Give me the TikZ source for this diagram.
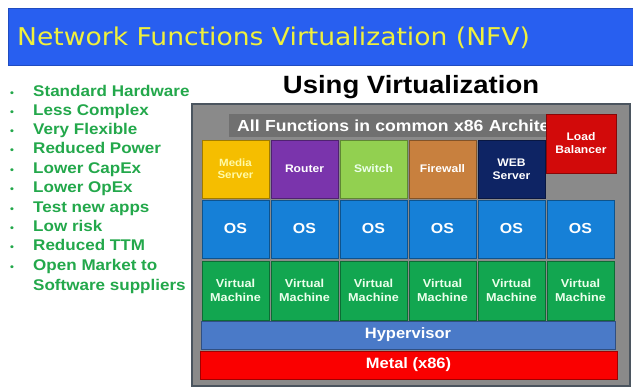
\documentclass[tikz,border=0pt]{standalone}
\usepackage{fontspec}
\setmainfont{Liberation Sans}[FakeStretch=1.1]
\newfontfamily\titlefont{DejaVu Sans}[FakeStretch=1.085]
\usepackage{tikz}

\definecolor{bannerblue}{RGB}{40,95,240}
\definecolor{titleyellow}{RGB}{240,240,60}
\definecolor{pointgreen}{RGB}{35,168,75}
\definecolor{panelgrey}{RGB}{138,138,138}
\definecolor{panelrim}{RGB}{75,85,95}
\definecolor{stripgrey}{RGB}{112,112,112}
\definecolor{mediacol}{RGB}{245,190,0}
\definecolor{routercol}{RGB}{122,52,172}
\definecolor{switchcol}{RGB}{146,208,80}
\definecolor{firecol}{RGB}{200,128,62}
\definecolor{webcol}{RGB}{14,36,100}
\definecolor{lbcol}{RGB}{210,10,10}
\definecolor{oscol}{RGB}{22,128,215}
\definecolor{vmcol}{RGB}{18,166,80}
\definecolor{hypercol}{RGB}{74,122,200}
\definecolor{metalcol}{RGB}{250,0,0}

\tikzset{
  point/.style={anchor=base west, inner sep=0pt, text=pointgreen,
    font=\bfseries\fontsize{15.5}{18}\selectfont},
  block/.style={draw=#1!65!black, fill=#1, line width=0.8pt, inner sep=0pt,
    minimum width=67pt, minimum height=58pt, align=center, text=white,
    font=\bfseries\fontsize{11}{13}\selectfont},
  osblock/.style={block=oscol, font=\bfseries\fontsize{14.5}{16}\selectfont},
  vmblock/.style={block=vmcol, minimum height=59pt, text=white!92!green,
    font=\bfseries\fontsize{11.5}{13.5}\selectfont},
  layer/.style={draw=#1!65!black, fill=#1, line width=0.8pt, inner sep=0pt,
    minimum height=28pt, text=white, font=\bfseries\fontsize{15}{17}\selectfont}
}

\newcommand{\bul}{\makebox[23pt][l]{\fontsize{10}{10}\selectfont\textbullet}}

\begin{document}
\begin{tikzpicture}[x=1pt, y=-1pt]
    \useasboundingbox[fill=white] (0,0) rectangle (633,387);

    % banner
    \node[fill=bannerblue, draw=bannerblue!80!black, minimum width=625pt,
      minimum height=57pt, inner sep=0pt] (banner) at (320.5,36.5) {};
    \node[anchor=base west, inner sep=0pt, text=titleyellow,
      font=\titlefont\fontsize{24.5}{28}\selectfont] (title) at (17,46)
      {Network Functions Virtualization (NFV)};

    % benefits
    \node[point] (b1) at (10,96.5) {\bul Standard Hardware};
    \node[point] (b2) at (10,115.5) {\bul Less Complex};
    \node[point] (b3) at (10,134.5) {\bul Very Flexible};
    \node[point] (b4) at (10,153.5) {\bul Reduced Power};
    \node[point] (b5) at (10,173.5) {\bul Lower CapEx};
    \node[point] (b6) at (10,192.5) {\bul Lower OpEx};
    \node[point] (b7) at (10,212.5) {\bul Test new apps};
    \node[point] (b8) at (10,231.5) {\bul Low risk};
    \node[point] (b9) at (10,250.5) {\bul Reduced TTM};
    \node[point] (b10) at (10,270.5) {\bul Open Market to};
    \node[point] (b11) at (33,290.5) {Software suppliers};

    \node[font=\bfseries\fontsize{25}{30}\selectfont] (using) at (411,87)
      {Using Virtualization};

    % stack
    \node[fill=panelgrey, draw=panelrim, line width=1.5pt, minimum width=438pt,
      minimum height=282pt, inner sep=0pt] (panel) at (411,245) {};
    \node[fill=stripgrey, anchor=west, text width=314pt, inner xsep=8pt,
      inner ysep=0pt, minimum height=23pt, text=white, align=left,
      font=\bfseries\fontsize{16}{17}\selectfont] (strip) at (229,125.5)
      {All Functions in common x86 Archite};

    \node[block=mediacol, text=yellow!35!white,
      font=\bfseries\fontsize{10.5}{12.5}\selectfont] (media) at (235.5,169) {Media\\Server};
    \node[block=routercol] (router) at (304.5,169) {Router};
    \node[block=switchcol, text=green!8!white] (switch) at (373.5,169) {Switch};
    \node[block=firecol] (firewall) at (442.5,169) {Firewall};
    \node[block=webcol] (web) at (511.5,169) {WEB\\Server};
    \node[block=lbcol, minimum width=70pt, minimum height=59pt] (lb)
      at (581,143.5) {Load\\Balancer};

    \node[osblock] (os1) at (235.5,229) {OS};
    \node[osblock] (os2) at (304.5,229) {OS};
    \node[osblock] (os3) at (373.5,229) {OS};
    \node[osblock] (os4) at (442.5,229) {OS};
    \node[osblock] (os5) at (511.5,229) {OS};
    \node[osblock] (os6) at (580.5,229) {OS};

    \node[vmblock] (vm1) at (235.5,290.5) {Virtual\\Machine};
    \node[vmblock] (vm2) at (304.5,290.5) {Virtual\\Machine};
    \node[vmblock] (vm3) at (373.5,290.5) {Virtual\\Machine};
    \node[vmblock] (vm4) at (442.5,290.5) {Virtual\\Machine};
    \node[vmblock] (vm5) at (511.5,290.5) {Virtual\\Machine};
    \node[vmblock] (vm6) at (580.5,290.5) {Virtual\\Machine};

    \node[layer=hypercol, minimum width=414pt] (hyper) at (408,335) {Hypervisor};
    \node[layer=metalcol, minimum width=417pt] (metal) at (408.5,365) {Metal (x86)};
\end{tikzpicture}
\end{document}
